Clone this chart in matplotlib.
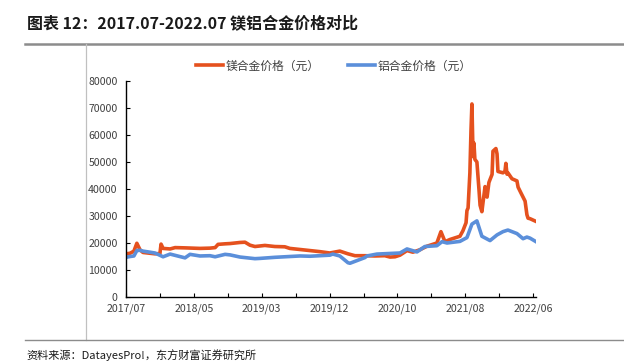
import matplotlib
matplotlib.use('Agg')
import matplotlib.pyplot as plt
from matplotlib.lines import Line2D
import pandas as pd

plt.rcParams['font.family'] = ['Noto Sans CJK SC', 'DejaVu Sans']

# 镁合金价格 (元)
mg_dates = ['2017-07-03', '2017-07-21', '2017-08-07', '2017-08-20', '2017-09-03', '2017-09-16',
            '2017-10-17', '2017-11-08', '2017-11-30', '2017-12-05', '2017-12-14', '2018-01-14',
            '2018-02-05', '2018-03-21', '2018-05-26', '2018-07-09', '2018-08-01', '2018-08-14',
            '2018-09-14', '2018-10-06', '2018-11-19', '2018-12-11', '2019-01-02', '2019-01-24',
            '2019-02-15', '2019-03-09', '2019-04-22', '2019-06-05', '2019-06-27', '2019-08-11',
            '2019-09-24', '2019-11-07', '2019-12-21', '2020-02-03', '2020-03-10', '2020-04-10',
            '2020-05-24', '2020-07-07', '2020-08-20', '2020-09-12', '2020-10-04', '2020-10-26',
            '2020-11-26', '2020-12-22', '2021-01-22', '2021-02-22', '2021-04-07', '2021-04-25',
            '2021-05-13', '2021-06-04', '2021-07-18', '2021-07-31', '2021-08-14', '2021-08-18',
            '2021-08-23', '2021-08-31', '2021-09-05', '2021-09-09', '2021-09-14', '2021-09-18',
            '2021-09-22', '2021-10-01', '2021-10-10', '2021-10-15', '2021-10-23', '2021-10-28',
            '2021-11-06', '2021-11-15', '2021-11-23', '2021-11-28', '2021-12-07', '2021-12-11',
            '2021-12-24', '2021-12-29', '2022-01-02', '2022-01-24', '2022-02-02', '2022-02-06',
            '2022-02-11', '2022-02-15', '2022-03-05', '2022-03-27', '2022-04-01', '2022-04-14',
            '2022-04-23', '2022-05-02', '2022-05-10', '2022-05-15', '2022-05-24', '2022-06-06',
            '2022-06-19']
mg_price = [16000, 16200, 17000, 19900, 17500, 16500,
            16200, 16000, 16100, 19600, 18000, 17800,
            18300, 18200, 18000, 18100, 18300, 19500,
            19700, 19800, 20200, 20300, 19200, 18700,
            18900, 19100, 18700, 18600, 18000, 17600,
            17200, 16800, 16300, 17000, 16000, 15300,
            15300, 15200, 15300, 14800, 14900, 15500,
            17200, 16600, 17500, 18800, 20000, 24200,
            20500, 21300, 22500, 24500, 27500, 32000,
            33000, 46000, 62000, 71500, 52000, 57000,
            51000, 50000, 40000, 34000, 31600, 35000,
            40900, 37000, 42400, 43500, 45400, 54000,
            55000, 53000, 46500, 46000, 46500, 49500,
            45500, 46000, 43800, 43000, 40700, 38500,
            37000, 35500, 30500, 29200, 29000, 28500,
            28000]

# 铝合金价格 (元)
al_dates = ['2017-07-03', '2017-07-21', '2017-08-07', '2017-08-20', '2017-09-03', '2017-09-16',
            '2017-10-17', '2017-11-08', '2017-12-14', '2018-01-14', '2018-03-21', '2018-04-12',
            '2018-05-26', '2018-07-09', '2018-08-01', '2018-09-14', '2018-10-06', '2018-11-19',
            '2019-01-24', '2019-02-15', '2019-04-22', '2019-06-27', '2019-08-11', '2019-09-24',
            '2019-12-21', '2020-01-03', '2020-02-03', '2020-03-10', '2020-03-19', '2020-05-24',
            '2020-06-02', '2020-07-16', '2020-10-26', '2020-11-26', '2021-01-09', '2021-02-13',
            '2021-04-07', '2021-04-30', '2021-05-22', '2021-07-18', '2021-08-18', '2021-09-09',
            '2021-10-01', '2021-10-23', '2021-11-28', '2021-12-29', '2022-01-24', '2022-02-15',
            '2022-03-27', '2022-04-23', '2022-05-10', '2022-05-24', '2022-06-19']
al_price = [14700, 15000, 15200, 17200, 17300, 17000,
            16600, 16300, 14900, 15900, 14500, 15800,
            15200, 15300, 14900, 15800, 15600, 14800,
            14200, 14300, 14700, 15000, 15200, 15100,
            15500, 15900, 15200, 12700, 12500, 14600,
            15200, 15900, 16300, 17800, 16700, 18700,
            19000, 20500, 20000, 20600, 22000, 27000,
            28200, 22500, 20900, 23000, 24200, 24800,
            23500, 21600, 22200, 21800, 20500]

x_labels = ['2017/07', '2018/05', '2019/03', '2019/12', '2020/10', '2021/08', '2022/06']
y_ticks = list(range(0, 80001, 10000))

mg_color = '#E5511E'
al_color = '#5B8FDA'

fig = plt.figure(figsize=(6.24, 3.63), dpi=100)
ax = fig.add_axes([0.2019, 0.1818, 0.657, 0.595])

ax.plot(pd.to_datetime(mg_dates), mg_price, color=mg_color, lw=2.6, solid_joinstyle='round')
ax.plot(pd.to_datetime(al_dates), al_price, color=al_color, lw=2.6, solid_joinstyle='round')

start = pd.Timestamp('2017-07-03')
end = pd.Timestamp('2022-06-19')
ax.set_xlim(start, end)
ax.set_ylim(0, 80000)

# 13 ticks 150 days apart, label every other one
tick_pos = [start + pd.Timedelta(days=150 * k) for k in range(13)]
ax.set_xticks(tick_pos)
ax.set_xticklabels([x_labels[k // 2] if k % 2 == 0 else '' for k in range(13)])
ax.set_yticks(y_ticks)
ax.set_yticklabels([str(v) for v in y_ticks])

for side in ['top', 'right']:
    ax.spines[side].set_visible(False)
for side in ['left', 'bottom']:
    ax.spines[side].set_color('black')
    ax.spines[side].set_linewidth(1.0)
ax.tick_params(axis='both', direction='in', length=3, width=0.8, labelsize=7.6,
               colors='black', labelcolor='#404040')
ax.tick_params(axis='y', pad=6)
ax.tick_params(axis='x', pad=5)

handles = [Line2D([], [], color=mg_color, lw=2.6), Line2D([], [], color=al_color, lw=2.6)]
fig.legend(handles, ['镁合金价格（元）', '铝合金价格（元）'], loc='center',
           bbox_to_anchor=(0.535, 0.818), ncol=2, frameon=False, fontsize=8.5,
           handlelength=2.3, handletextpad=0.2, columnspacing=2.4, labelcolor='#404040')

# title and frame
fig.text(0.043, 0.937, '图表 12：2017.07-2022.07 镁铝合金价格对比', fontsize=11.5,
         fontweight='bold', color='#1a1a1a', va='center', ha='left')
fig.add_artist(Line2D([0.04, 1.0], [0.879, 0.879], color='#8c8c8c', lw=1.8))
fig.add_artist(Line2D([0.1375, 0.1375], [0.879, 0.062], color='#c0c0c0', lw=0.9))
fig.add_artist(Line2D([0.04, 1.0], [0.062, 0.062], color='#8c8c8c', lw=1.0))
fig.text(0.043, 0.022, '资料来源：DatayesPro!，东方财富证券研究所', fontsize=8,
         color='#1a1a1a', va='center', ha='left')

fig.savefig('out.png', dpi=100)
